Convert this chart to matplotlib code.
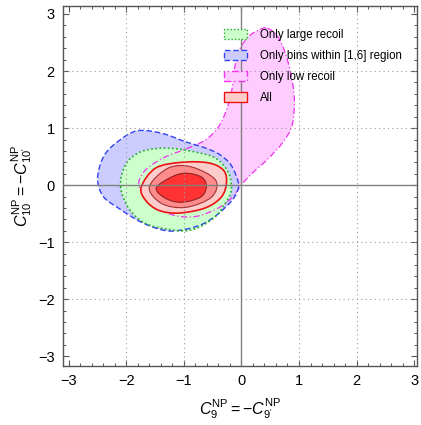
import numpy as np
import matplotlib
matplotlib.use('Agg')
import matplotlib.pyplot as plt
import matplotlib.patches as mpatches
from matplotlib.path import Path
from matplotlib.ticker import MultipleLocator

plt.rcParams['font.family'] = ['Liberation Sans', 'DejaVu Sans']
plt.rcParams['mathtext.fontset'] = 'custom'
plt.rcParams['mathtext.rm'] = 'Liberation Sans'
plt.rcParams['mathtext.it'] = 'Liberation Sans:italic'

# contour outlines (C9, C10)
low_x = [0.45, 0.62, 0.75, 0.86, 0.92, 0.88, 0.72, 0.45, 0.2, 0.02, -0.15, -0.4, -0.8, -1.2,
         -1.55, -1.78, -1.68, -1.35, -0.95, -0.63, -0.4, -0.26, -0.17, -0.12, -0.03, 0.12, 0.3]
low_y = [2.75, 2.62, 2.35, 1.95, 1.5, 1.05, 0.75, 0.45, 0.22, 0.03, -0.2, -0.4, -0.55, -0.52,
         -0.32, -0.02, 0.25, 0.48, 0.64, 0.79, 1.02, 1.32, 1.65, 2.05, 2.38, 2.6, 2.72]

bins_x = [-0.97, -0.65, -0.4, -0.2, -0.09, -0.05, -0.15, -0.4, -0.65, -0.95, -1.3, -1.72,
          -2.14, -2.4, -2.5, -2.42, -2.26, -1.95, -1.72, -1.35]
bins_y = [0.76, 0.66, 0.55, 0.38, 0.16, -0.03, -0.25, -0.5, -0.67, -0.77, -0.8, -0.66,
          -0.4, -0.2, 0.1, 0.45, 0.67, 0.9, 0.96, 0.9]

large_x = [-2.1, -2.02, -1.8, -1.5, -1.15, -0.8, -0.5, -0.32, -0.2, -0.18, -0.3, -0.45,
           -0.7, -0.95, -1.3, -1.67, -1.95]
large_y = [-0.03, 0.35, 0.56, 0.64, 0.64, 0.58, 0.5, 0.36, 0.15, -0.12, -0.35, -0.55,
           -0.72, -0.8, -0.77, -0.67, -0.42]

all3_x = [-1.74, -1.49, -1.04, -0.57, -0.31, -0.26, -0.35, -0.63, -1.09, -1.44, -1.67]
all3_y = [-0.03, 0.3, 0.4, 0.39, 0.26, 0.04, -0.21, -0.4, -0.49, -0.44, -0.26]
all2_x = [-1.6, -1.27, -0.87, -0.45, -0.52, -0.97, -1.39]
all2_y = [-0.03, 0.3, 0.32, 0.09, -0.21, -0.39, -0.32]
all1_x = [-1.48, -1.22, -0.97, -0.69, -0.61, -0.71, -1.04, -1.32]
all1_y = [-0.05, 0.14, 0.21, 0.14, -0.03, -0.21, -0.3, -0.23]

labels = ['Only large recoil', 'Only bins within [1,6] region', 'Only low recoil', 'All']


def smooth_path(xs, ys):
    # closed Catmull-Rom curve through the read points, as cubic beziers
    p = np.column_stack([xs, ys])
    n = len(p)
    verts = [p[0]]
    codes = [Path.MOVETO]
    for i in range(n):
        p0, p1, p2, p3 = p[i - 1], p[i], p[(i + 1) % n], p[(i + 2) % n]
        verts += [p1 + (p2 - p0) / 6, p2 - (p3 - p1) / 6, p2]
        codes += [Path.CURVE4] * 3
    verts.append(p[0])
    codes.append(Path.CLOSEPOLY)
    return Path(verts, codes)


def region(ax, xs, ys, fc, ec, ls, lw, z):
    path = smooth_path(xs, ys)
    ax.add_patch(mpatches.PathPatch(path, facecolor=fc, edgecolor='none', zorder=z))
    ax.add_patch(mpatches.PathPatch(path, facecolor='none', edgecolor=ec,
                                    linestyle=ls, linewidth=lw, zorder=2.0))


fig = plt.figure(figsize=(4.21, 4.25), dpi=100)
ax = fig.add_axes([63 / 421, 59 / 425, 354 / 421, 360 / 425])

pink_fc, pink_ec, pink_ls = '#ffccff', '#ee33ee', (0, (5, 2, 1, 2))
blue_fc, blue_ec, blue_ls = '#ccccff', '#3344ee', (0, (4, 2))
green_fc, green_ec, green_ls = '#ccffcc', '#22aa22', (0, (1, 1.5))

region(ax, low_x, low_y, pink_fc, pink_ec, pink_ls, 0.9, 1.0)
region(ax, bins_x, bins_y, blue_fc, blue_ec, blue_ls, 1.0, 1.1)
region(ax, large_x, large_y, green_fc, green_ec, green_ls, 1.2, 1.2)

ax.add_patch(mpatches.PathPatch(smooth_path(all3_x, all3_y), facecolor='#ffcccc',
                                edgecolor='#ee1111', linewidth=1.2, zorder=2.1))
ax.add_patch(mpatches.PathPatch(smooth_path(all2_x, all2_y), facecolor='#ff8c8c',
                                edgecolor='#a03333', linewidth=0.8, zorder=2.2))
ax.add_patch(mpatches.PathPatch(smooth_path(all1_x, all1_y), facecolor='#ff3333',
                                edgecolor='#8a2222', linewidth=0.8, zorder=2.3))

ax.set_xlim(-3.1, 3.05)
ax.set_ylim(-3.17, 3.14)
ax.set_xticks(range(-3, 4))
ax.set_yticks(range(-3, 4))
ax.set_xticklabels(['\u22123', '\u22122', '\u22121', '0', '1', '2', '3'])
ax.set_yticklabels(['\u22123', '\u22122', '\u22121', '0', '1', '2', '3'])
ax.xaxis.set_minor_locator(MultipleLocator(0.2))
ax.yaxis.set_minor_locator(MultipleLocator(0.2))
ax.tick_params(which='both', direction='in', top=True, right=True, colors='#555555',
               labelcolor='black', labelsize=10.5)
ax.tick_params(which='major', length=4.5, width=0.8, pad=6)
ax.tick_params(which='minor', length=2.5, width=0.7)
for s in ax.spines.values():
    s.set_color('#555555')
    s.set_linewidth(1.0)

for v in [-2, -1, 1, 2]:
    ax.axvline(v, color='#999999', linestyle=(0, (1, 3)), linewidth=0.8, zorder=2.5)
    ax.axhline(v, color='#999999', linestyle=(0, (1, 3)), linewidth=0.8, zorder=2.5)
ax.axvline(0, color='#808080', linewidth=1.0, zorder=2.6)
ax.axhline(0, color='#808080', linewidth=1.0, zorder=2.6)

ax.set_xlabel(r'$C_9^{\rm NP} = -C_{9^{\prime}}^{\rm NP}$', fontsize=11.5, labelpad=6)
ax.set_ylabel(r'$C_{10}^{\rm NP} = -C_{10^{\prime}}^{\rm NP}$', fontsize=11.5, labelpad=3)

handles = [
    mpatches.Patch(facecolor=green_fc, edgecolor=green_ec, linestyle=green_ls, linewidth=1.0),
    mpatches.Patch(facecolor=blue_fc, edgecolor=blue_ec, linestyle=blue_ls, linewidth=1.0),
    mpatches.Patch(facecolor=pink_fc, edgecolor=pink_ec, linestyle=pink_ls, linewidth=1.0),
    mpatches.Patch(facecolor='#ffcccc', edgecolor='#ee1111', linewidth=1.0),
]
leg = ax.legend(handles, labels, loc='upper left', bbox_to_anchor=(0.455, 0.937),
                frameon=False, fontsize=8.3, handlelength=2.0, handleheight=0.95,
                handletextpad=1.1, labelspacing=0.78, borderpad=0, borderaxespad=0)
leg.set_zorder(5)

fig.savefig('out.png', dpi=100)
